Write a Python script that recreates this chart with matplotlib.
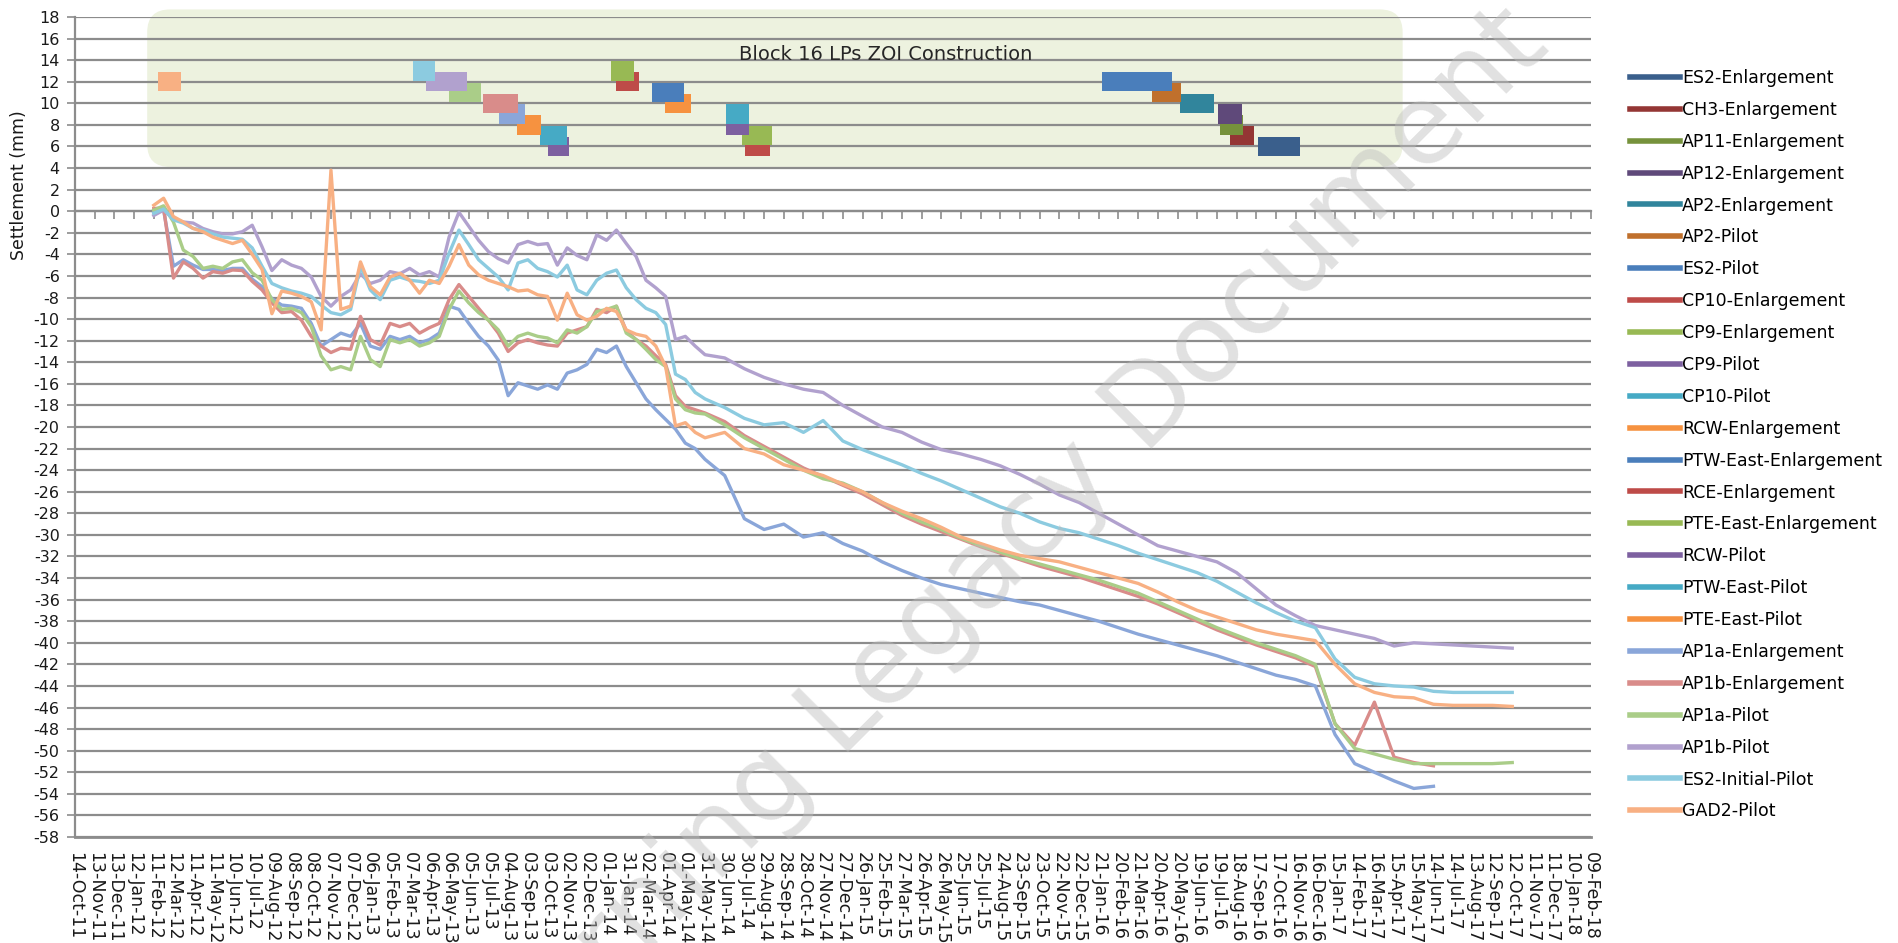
import matplotlib
matplotlib.use('Agg')
import matplotlib.pyplot as plt
import matplotlib.dates as mdates
from matplotlib.lines import Line2D
from matplotlib.patches import FancyBboxPatch
import numpy as np
import pandas as pd

plt.rcParams['font.family'] = 'DejaVu Sans'
plt.rcParams['axes.unicode_minus'] = False

nan = np.nan

# series, in legend order
names = ['ES2-Enlargement', 'CH3-Enlargement', 'AP11-Enlargement', 'AP12-Enlargement',
         'AP2-Enlargement', 'AP2-Pilot', 'ES2-Pilot', 'CP10-Enlargement', 'CP9-Enlargement',
         'CP9-Pilot', 'CP10-Pilot', 'RCW-Enlargement', 'PTW-East-Enlargement',
         'RCE-Enlargement', 'PTE-East-Enlargement', 'RCW-Pilot', 'PTW-East-Pilot',
         'PTE-East-Pilot', 'AP1a-Enlargement', 'AP1b-Enlargement', 'AP1a-Pilot',
         'AP1b-Pilot', 'ES2-Initial-Pilot', 'GAD2-Pilot']
colors = ['#3a5f8c', '#943634', '#76923c', '#5f497a', '#31859c', '#c0702c',
          '#4a7ebb', '#be4b48', '#98b954', '#7d60a0', '#46aac5', '#f69240',
          '#4a7ebb', '#be4b48', '#98b954', '#7d60a0', '#46aac5', '#f69240',
          '#8aa6d9', '#d98c8a', '#aacd88', '#b1a1ce', '#8ccbe0', '#f8b083']

# construction periods (one bar per series, same order as names)
bar_start = ['2016-09-19', '2016-08-08', '2016-07-23', '2016-07-20', '2016-05-24', '2016-04-11',
             '2016-01-26', '2014-07-31', '2014-07-26', '2014-07-02', '2014-07-02', '2014-03-31',
             '2014-03-11', '2014-01-15', '2014-01-08', '2013-10-04', '2013-09-22', '2013-08-17',
             '2013-07-21', '2013-06-27', '2013-05-06', '2013-04-01', '2013-03-12', '2012-02-18']
bar_end = ['2016-11-22', '2016-09-13', '2016-08-28', '2016-08-26', '2016-07-14', '2016-05-25',
           '2016-05-11', '2014-09-07', '2014-09-10', '2014-08-06', '2014-08-06', '2014-05-09',
           '2014-04-29', '2014-02-19', '2014-02-12', '2013-11-05', '2013-11-02', '2013-09-23',
           '2013-08-30', '2013-08-19', '2013-06-24', '2013-06-02', '2013-04-14', '2012-03-23']
bar_level = [6, 7, 8, 9, 10, 11, 12, 6, 7, 8, 9, 10, 11, 12, 13, 6, 7, 8, 9, 10, 11, 12, 13, 12]

# survey dates: every 15 days to May-14, then every 30 days
survey_dates = pd.date_range('2012-02-11', periods=57, freq='15D').append(
    pd.date_range('2014-06-30', periods=41, freq='30D'))

ap1a_enl = [-0.1, 0.1, -5.1, -4.5, -5.0, -5.4, -5.4, -5.5, -5.3, -5.3,
            -6.3, -7.0, -8.1, -8.7, -8.8, -9.0, -10.4, -12.5, -11.9, -11.3,
            -11.6, -10.4, -12.5, -12.8, -11.6, -11.9, -11.6, -12.2, -11.9, -11.3,
            -8.8, -9.1, -10.4, -11.6, -12.5, -13.8, -17.1, -15.9, -16.2, -16.5,
            -16.1, -16.5, -15.0, -14.7, -14.2, -12.8, -13.1, -12.5, -14.4, -15.9,
            -17.4, -18.4, -19.3, -20.2, -21.5, -22.0, -23.0,
            -24.5, -28.5, -29.5, -29.0, -30.2, -29.8, -30.8, -31.5, -32.5, -33.3,
            -34.0, -34.6, -35.0, -35.4, -35.8, -36.2, -36.5, -37.0, -37.5, -38.0,
            -38.6, -39.2, -39.7, -40.2, -40.7, -41.2, -41.8, -42.4, -43.0, -43.4,
            -44.0, -48.5, -51.2, -52.0, -52.8, -53.5, -53.3, nan, nan, nan, nan]
ap1b_enl = [0.25, 0.3, -6.2, -4.7, -5.3, -6.2, -5.6, -5.75, -5.45, -5.5,
            -6.5, -7.3, -8.5, -9.4, -9.3, -10.1, -11.6, -12.5, -13.1, -12.7,
            -12.8, -9.75, -11.9, -12.4, -10.4, -10.7, -10.4, -11.3, -10.8, -10.4,
            -8.2, -6.8, -7.9, -9.0, -10.1, -11.3, -13.0, -12.2, -11.9, -12.2,
            -12.4, -12.5, -11.3, -11.0, -10.7, -9.1, -9.4, -8.8, -11.1, -11.9,
            -12.5, -13.4, -14.2, -17.1, -18.1, -18.4, -18.7,
            -19.5, -20.8, -21.8, -22.8, -23.8, -24.6, -25.4, -26.2, -27.2, -28.2,
            -29.0, -29.7, -30.4, -31.1, -31.7, -32.3, -32.9, -33.4, -33.9, -34.5,
            -35.1, -35.7, -36.4, -37.2, -38.0, -38.8, -39.5, -40.2, -40.8, -41.4,
            -42.2, -47.5, -49.5, -45.5, -50.6, -51.1, -51.4, nan, nan, nan, nan]
ap1a_pilot = [0.1, 0.5, -1.0, -3.6, -4.2, -5.3, -5.1, -5.3, -4.7, -4.5,
              -5.7, -6.4, -8.2, -9.1, -9.0, -9.4, -10.7, -13.4, -14.7, -14.4,
              -14.7, -11.6, -13.75, -14.4, -11.9, -12.2, -11.9, -12.5, -12.2, -11.6,
              -9.1, -7.4, -8.5, -9.4, -10.1, -11.0, -12.5, -11.6, -11.3, -11.6,
              -11.75, -12.2, -11.0, -11.3, -10.7, -9.3, -9.1, -8.8, -11.3, -11.9,
              -12.8, -13.75, -14.4, -17.4, -18.4, -18.7, -18.8,
              -19.8, -21.0, -22.0, -23.0, -24.0, -24.8, -25.2, -26.0, -27.0, -28.0,
              -28.8, -29.5, -30.3, -31.0, -31.6, -32.2, -32.7, -33.2, -33.7, -34.2,
              -34.8, -35.4, -36.2, -37.0, -37.8, -38.6, -39.3, -40.0, -40.6, -41.2,
              -42.0, -47.5, -49.8, -50.3, -50.8, -51.2, -51.2, -51.2, -51.2, -51.2, -51.1]
ap1b_pilot = [-0.4, 0.1, -0.7, -1.0, -1.1, -1.6, -1.9, -2.1, -2.1, -1.9,
              -1.3, -3.3, -5.5, -4.5, -5.0, -5.3, -6.1, -7.9, -8.8, -7.9,
              -7.3, -5.8, -6.7, -6.4, -5.6, -5.8, -5.3, -5.9, -5.6, -6.1,
              -2.4, -0.1, -1.4, -2.7, -3.75, -4.4, -4.8, -3.1, -2.8, -3.1,
              -3.0, -5.0, -3.4, -4.1, -4.5, -2.2, -2.7, -1.75, -3.0, -4.2,
              -6.4, -7.1, -7.9, -11.9, -11.6, -12.5, -13.3,
              -13.6, -14.6, -15.4, -16.0, -16.5, -16.8, -18.0, -19.0, -20.0, -20.5,
              -21.4, -22.1, -22.5, -23.0, -23.6, -24.4, -25.3, -26.3, -27.0, -28.0,
              -29.0, -30.0, -31.0, -31.5, -32.0, -32.5, -33.5, -35.0, -36.5, -37.5,
              -38.4, -38.8, -39.2, -39.6, -40.3, -40.0, -40.1, -40.2, -40.3, -40.4, -40.5]
es2_initial_pilot = [-0.2, 0.2, -0.8, -1.1, -1.6, -1.75, -2.1, -2.4, -2.5, -2.6,
                     -3.4, -5.1, -6.7, -7.1, -7.4, -7.6, -7.9, -8.7, -9.4, -9.6,
                     -9.1, -5.1, -7.3, -8.2, -6.4, -6.1, -6.4, -6.5, -6.7, -6.4,
                     -3.9, -1.75, -3.1, -4.5, -5.3, -6.1, -7.3, -4.8, -4.5, -5.3,
                     -5.6, -6.1, -5.0, -7.3, -7.75, -6.4, -5.75, -5.45, -7.1, -8.2,
                     -9.0, -9.4, -10.5, -15.1, -15.6, -16.8, -17.4,
                     -18.2, -19.2, -19.8, -19.6, -20.5, -19.4, -21.3, -22.1, -22.8, -23.5,
                     -24.3, -25.0, -25.8, -26.6, -27.4, -28.0, -28.8, -29.4, -29.8, -30.4,
                     -31.0, -31.7, -32.3, -32.9, -33.5, -34.3, -35.3, -36.3, -37.2, -38.0,
                     -38.6, -41.5, -43.2, -43.8, -44.0, -44.1, -44.5, -44.6, -44.6, -44.6, -44.6]
gad2_pilot = [0.55, 1.2, -0.5, -1.0, -1.6, -1.9, -2.4, -2.7, -3.0, -2.7,
              -4.0, -5.4, -9.5, -7.4, -7.6, -7.9, -8.4, -11.0, 3.8, -9.1,
              -8.8, -4.7, -7.0, -7.75, -6.1, -5.75, -6.4, -7.6, -6.4, -6.7,
              -5.1, -3.1, -5.0, -5.9, -6.4, -6.7, -7.0, -7.4, -7.3, -7.75,
              -7.9, -10.1, -7.6, -9.6, -10.1, -9.75, -9.0, -9.3, -11.0, -11.4,
              -11.6, -12.5, -14.4, -19.9, -19.6, -20.5, -21.0,
              -20.5, -22.0, -22.5, -23.5, -24.0, -24.5, -25.3, -26.0, -27.0, -27.8,
              -28.5, -29.3, -30.2, -30.8, -31.4, -31.9, -32.2, -32.5, -33.0, -33.5,
              -34.0, -34.5, -35.3, -36.2, -37.0, -37.6, -38.2, -38.8, -39.2, -39.5,
              -39.8, -42.0, -43.8, -44.6, -45.0, -45.1, -45.7, -45.8, -45.8, -45.8, -45.9]

settlement = {'AP1a-Enlargement': ap1a_enl, 'AP1b-Enlargement': ap1b_enl,
              'AP1a-Pilot': ap1a_pilot, 'AP1b-Pilot': ap1b_pilot,
              'ES2-Initial-Pilot': es2_initial_pilot, 'GAD2-Pilot': gad2_pilot}

x_ticks = pd.date_range('2011-10-14', '2018-02-09', freq='30D')

fig = plt.figure(figsize=(18.99, 9.43), dpi=100)
ax = fig.add_axes([0.0395, 0.1124, 0.7983, 0.8696])

# light green panel behind the construction bars
x0 = mdates.date2num(pd.Timestamp('2012-02-01'))
x1 = mdates.date2num(pd.Timestamp('2017-04-28'))
panel = FancyBboxPatch((x0, 4.1), x1 - x0, 14.6,
                       boxstyle='round,pad=0,rounding_size=35', mutation_aspect=0.06,
                       facecolor='#edf2df', edgecolor='none', zorder=0.2, clip_on=False)
ax.add_patch(panel)

for name, c, s, e, lvl in zip(names, colors, bar_start, bar_end, bar_level):
    s_num = mdates.date2num(pd.Timestamp(s))
    e_num = mdates.date2num(pd.Timestamp(e))
    ax.broken_barh([(s_num, e_num - s_num)], (lvl - 0.9, 1.8), facecolors=c, zorder=2)

for name, c in zip(names, colors):
    if name in settlement:
        ax.plot(survey_dates, settlement[name], color=c, lw=2.4, zorder=3)

ax.text(pd.Timestamp('2015-03-03'), 14.5, 'Block 16 LPs ZOI Construction',
        ha='center', va='center', fontsize=14, color='#262626')

# axes
ax.set_xlim(x_ticks[0], x_ticks[-1])
ax.set_ylim(-58, 18)
ax.set_yticks(np.arange(-58, 19, 2))
ax.yaxis.grid(True, color='#8c8c8c', lw=1.6)
ax.set_axisbelow(True)

ax.spines['right'].set_visible(False)
ax.spines['top'].set_position(('data', 0))
ax.spines['top'].set_color('#8c8c8c')
ax.spines['top'].set_linewidth(1.6)
ax.spines['left'].set_color('#8c8c8c')
ax.spines['left'].set_linewidth(1.6)
ax.spines['bottom'].set_color('#8c8c8c')
ax.spines['bottom'].set_linewidth(2)

ax.tick_params(axis='x', top=True, bottom=False, labeltop=False, labelbottom=True,
               direction='in', length=6, width=1.2, color='#8c8c8c', pad=11,
               labelcolor='#1a1a1a', labelsize=12.5, labelrotation=-90)
ax.tick_params(axis='y', direction='out', length=6, width=1.2, color='#8c8c8c',
               labelsize=11.5, pad=5, labelcolor='#1a1a1a')

ax.set_xticks(x_ticks)
ax.set_xticklabels([d.strftime('%d-%b-%y') for d in x_ticks])
for lab in ax.get_xticklabels():
    lab.set_rotation(-90)
    lab.set_ha('center')
    lab.set_va('top')

ax.set_ylabel('Settlement (mm)', fontsize=12.5, color='#1a1a1a')
ax.yaxis.set_label_coords(-0.031, 0.795)

handles = [Line2D([], [], color=c, lw=4) for c in colors]
fig.legend(handles, names, loc='upper left', bbox_to_anchor=(1630 / 1899, 1 - 69 / 943),
           frameon=False, fontsize=12.5, handlelength=2.9, handletextpad=0.1,
           labelspacing=0.80, borderpad=0, borderaxespad=0)

# watermark
fig.text(0.522, 0.40, 'Learning Legacy Document', rotation=45, rotation_mode='anchor',
         ha='center', va='center', fontsize=80, color='#bdbdbd', alpha=0.45, zorder=10)

fig.savefig('out.png', dpi=100)
